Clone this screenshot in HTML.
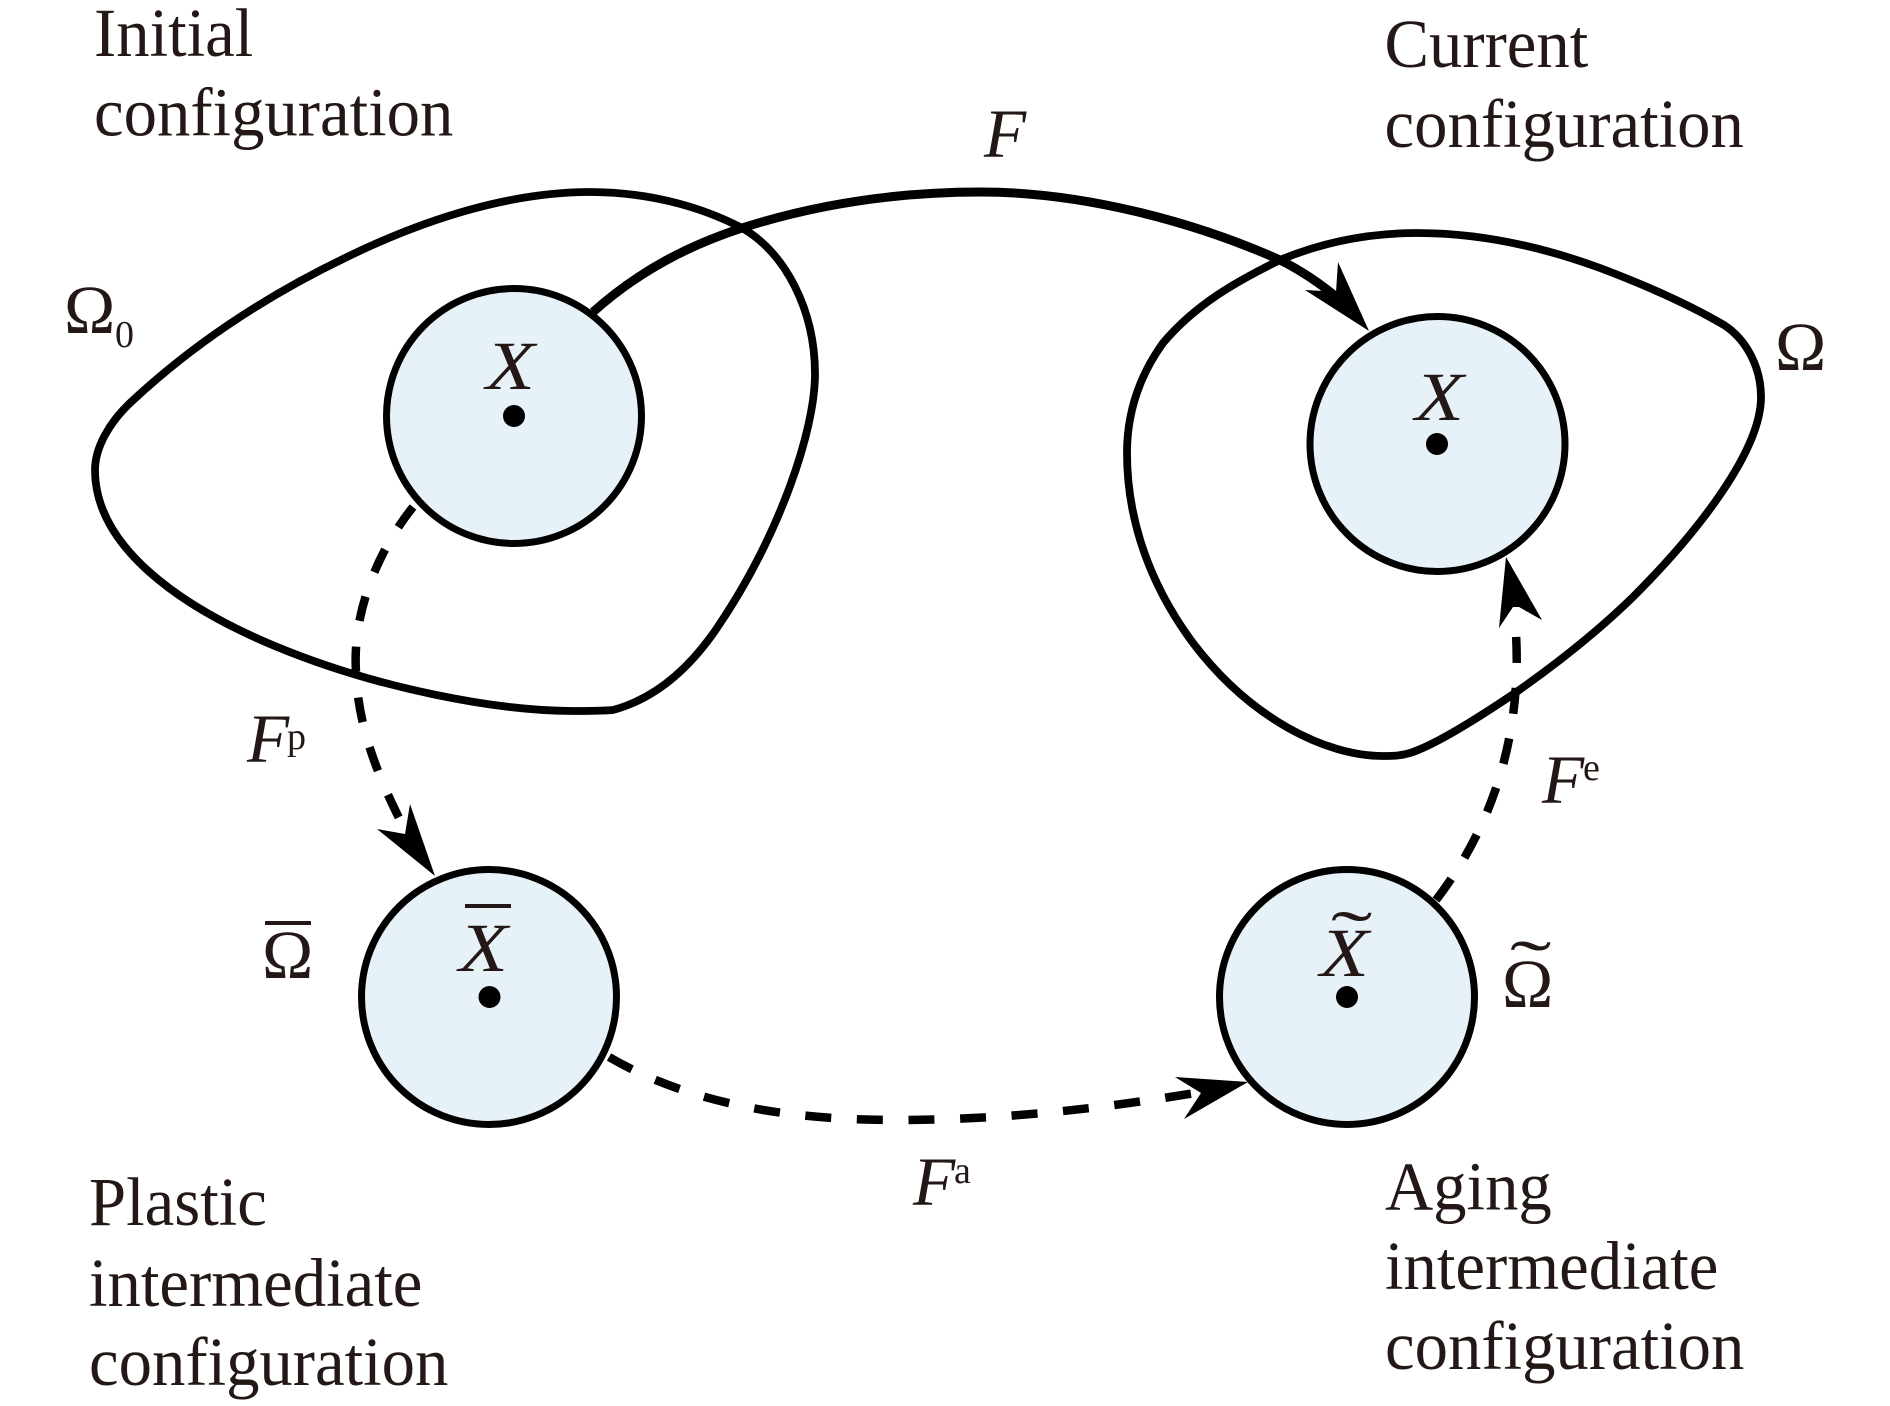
<!DOCTYPE html>
<html><head><meta charset="utf-8">
<style>
html,body{margin:0;padding:0;background:#fff}
svg{display:block}
text{font-family:"Liberation Serif",serif;fill:#231815;font-size:69px}
.i{font-style:italic}
.s{font-size:38px}
</style></head><body>
<svg width="1890" height="1406" viewBox="0 0 1890 1406" xmlns="http://www.w3.org/2000/svg">
<rect width="1890" height="1406" fill="#fff"/>
<g fill="none" stroke="#000" stroke-width="7.8">
<path d="M95,470 C95,447 110,422 130,403 C195,342 270,294 347,257 C425,219 510,192 590,192 C645,192 698,205 742,228 C785,252 815,310 815,374 C815,430 780,535 717,628 C685,675 650,700 613,710 C600,711 590,711 573,711 C420,711 95,620 95,470 Z"/>
<path d="M1417,233 C1480,233 1540,246 1600,268 C1645,285 1690,305 1724,325 C1747,340 1761,368 1761,397 C1761,450 1700,530 1633,597 C1595,634 1555,665 1515,693 C1475,720 1435,745 1410,753 C1400,756 1393,756 1383,756 C1325,756 1250,718 1193,643 C1150,585 1127,520 1127,453 C1127,412 1140,375 1163,343 C1195,305 1235,282 1280,260 C1323,242 1370,233 1417,233 Z"/>
<path d="M593,312 C640,270 690,245 742,228 C820,203 900,192 981,192 C1080,192 1190,220 1280,260 C1300,270 1320,283 1340,300" stroke-width="9"/>
<path d="M413,507 C380,548 352,610 356,672 C358,730 380,780 403,826" stroke-width="8.5" stroke-dasharray="25 26"/>
<path d="M609,1057 C700,1110 810,1120 895,1120 C1010,1120 1110,1107 1195,1093" stroke-width="8.5" stroke-dasharray="26 25.6"/>
<path d="M1436,900 C1490,830 1522,740 1516,634" stroke-width="8.5" stroke-dasharray="26 25"/>
</g>
<g fill="#000">
<polygon points="1369,331 1338,262 1336,292 1323,291 1305,290"/>
<polygon points="435,876 410,804 405,834 377,829"/>
<polygon points="1248,1082 1175,1077 1201,1093 1184,1119"/>
<polygon points="1506,557 1499,628 1513,607 1519,607 1542,620"/>
</g>
<g fill="#e6f1f8" stroke="#000" stroke-width="7">
<circle cx="514" cy="416" r="127.5"/>
<circle cx="1437.5" cy="444" r="127.5"/>
<circle cx="489" cy="997" r="127.5"/>
<circle cx="1347" cy="997" r="127.5"/>
</g>
<g fill="#000">
<circle cx="514" cy="416" r="11"/>
<circle cx="1437" cy="444" r="11"/>
<circle cx="489.5" cy="997" r="11"/>
<circle cx="1347" cy="997" r="11"/>
</g>
<text transform="translate(94 56) scale(.967 1)">Initial</text>
<text transform="translate(94 135.5) scale(.967 1)">configuration</text>
<text transform="translate(1384.5 67) scale(.967 1)">Current</text>
<text transform="translate(1384.5 147) scale(.967 1)">configuration</text>
<text transform="translate(89 1225) scale(.967 1)">Plastic</text>
<text transform="translate(89 1306) scale(.967 1)">intermediate</text>
<text transform="translate(89 1385) scale(.967 1)">configuration</text>
<text transform="translate(1385 1209.5) scale(.967 1)">Aging</text>
<text transform="translate(1385 1289) scale(.967 1)">intermediate</text>
<text transform="translate(1385 1369) scale(.967 1)">configuration</text>
<text class="i" transform="translate(486 389) scale(1.16 1)">X</text>
<text class="i" transform="translate(1415 420) scale(1.16 1)">X</text>
<text class="i" transform="translate(459 971) scale(1.16 1)">X</text>
<text class="i" transform="translate(1320 976) scale(1.16 1)">X</text>
<rect x="465" y="904" width="46" height="4" fill="#231815"/>
<text transform="translate(1331 958.5) scale(1.8 1)">˜</text>
<text x="64" y="333">Ω</text>
<text class="s" x="115" y="347">0</text>
<text x="1775" y="370">Ω</text>
<text x="262" y="978">Ω</text>
<rect x="265" y="921" width="46" height="4" fill="#231815"/>
<text x="1502" y="1007">Ω</text>
<text transform="translate(1510 988) scale(1.8 1)">˜</text>
<text class="i" x="984" y="157">F</text>
<text class="i" x="247" y="762">F</text>
<text class="s" x="287" y="749">p</text>
<text class="i" x="913" y="1205">F</text>
<text class="s" x="954" y="1183">a</text>
<text class="i" x="1542" y="803">F</text>
<text class="s" x="1583" y="780">e</text>
</svg>
</body></html>
